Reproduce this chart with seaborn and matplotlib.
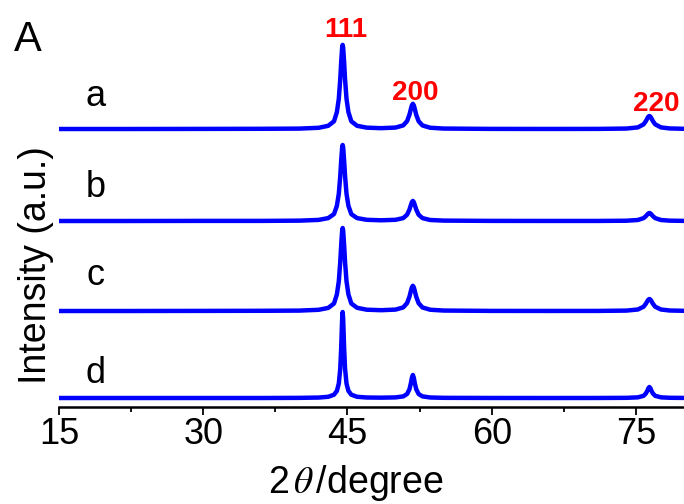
import numpy as np
import pandas as pd
import matplotlib
matplotlib.use("Agg")
import matplotlib.pyplot as plt
import seaborn as sns
from matplotlib.ticker import MultipleLocator

# ---------------- data ----------------
two_theta = [15, 22, 30, 36, 40, 42, 43, 43.6, 43.9, 44.1, 44.25, 44.35, 44.45, 44.5,
             44.55, 44.65, 44.75, 44.9, 45.1, 45.4, 46.0, 47.0, 48.5, 50.0, 50.8, 51.2,
             51.45, 51.6, 51.7, 51.8, 51.9, 52.0, 52.15, 52.4, 52.8, 53.6, 55, 60, 66,
             71, 74, 75.2, 75.8, 76.05, 76.2, 76.3, 76.4, 76.5, 76.6, 76.75, 77.0, 77.6,
             78.5, 80]

int_a = [0.0, 0.0, 0.1, 0.2, 0.4, 1.2, 3.2, 7.7, 16.9, 30.3, 49.7, 67.3, 81.8, 84.1,
         81.8, 67.3, 49.7, 30.3, 16.9, 7.7, 3.2, 1.35, 0.83, 1.43, 3.6, 7.9,
         14.4, 20.2, 23.7, 25.2, 23.7, 20.2, 14.3, 7.8, 3.55, 1.27, 0.45, 0.1, 0.05,
         0.1, 0.45, 1.6, 4.7, 8.1, 10.9, 12.4, 13.0, 12.4, 10.9, 8.1, 4.7, 1.6,
         0.57, 0.2]

int_b = [0.0, 0.0, 0.1, 0.1, 0.35, 1.1, 2.9, 6.9, 15.2, 27.3, 44.9, 60.8, 73.9, 76.0,
         73.9, 60.8, 44.9, 27.3, 15.2, 6.9, 2.9, 1.2, 0.7, 1.2, 2.9, 6.3,
         11.5, 16.1, 18.9, 20.1, 18.9, 16.1, 11.5, 6.3, 2.9, 1.0, 0.4, 0.1, 0.05,
         0.06, 0.27, 1.0, 2.9, 5.0, 6.7, 7.6, 8.0, 7.6, 6.7, 5.0, 2.9, 1.0,
         0.35, 0.12]

int_c = [0.0, 0.0, 0.1, 0.2, 0.4, 1.2, 3.1, 7.5, 16.6, 29.8, 49.0, 66.4, 80.7, 83.0,
         80.7, 66.4, 49.0, 29.8, 16.6, 7.5, 3.2, 1.3, 0.8, 1.4, 3.6, 7.9,
         14.4, 20.2, 23.7, 25.2, 23.7, 20.2, 14.3, 7.8, 3.55, 1.27, 0.45, 0.1, 0.05,
         0.08, 0.4, 1.5, 4.3, 7.5, 10.1, 11.4, 12.0, 11.4, 10.1, 7.5, 4.3, 1.5,
         0.5, 0.18]

int_d = [0.0, 0.0, 0.0, 0.0, 0.14, 0.44, 1.2, 3.3, 7.1, 14.5, 29.3, 50.7, 79.8, 86.0,
         79.8, 50.7, 29.3, 14.5, 7.1, 3.3, 1.2, 0.5, 0.33, 0.6, 1.6, 4.0,
         8.8, 15.0, 20.3, 23.0, 20.3, 15.0, 8.8, 4.0, 1.6, 0.52, 0.17, 0.03, 0.0,
         0.03, 0.17, 0.65, 2.2, 4.7, 7.6, 9.9, 11.0, 9.9, 7.6, 4.7, 2.2, 0.65,
         0.22, 0.08]

sample_names = ["a", "b", "c", "d"]
sample_offsets = [278, 186, 96, 9]
sample_label_y = [301, 210, 122, 24]

peak_labels = ["111", "200", "220"]
peak_label_x = [44.85, 52.02, 77.09]
peak_label_y = [370, 307, 296]

x_ticks = [15, 30, 45, 60, 75]

# ---------------- figure ----------------
sns.set_theme(style="white")
plt.rcParams["font.family"] = ["Liberation Sans", "DejaVu Sans"]
plt.rcParams["mathtext.fontset"] = "stix"
plt.rcParams["text.color"] = "black"
plt.rcParams["axes.labelcolor"] = "black"
plt.rcParams["xtick.color"] = "black"
plt.rcParams["ytick.color"] = "black"

W, H = 684, 504
fig = plt.figure(figsize=(W / 100, H / 100), dpi=100)
ax_left, ax_right, ax_bottom, ax_top = 59, 684, 407, 20
ax = fig.add_axes([ax_left / W, (H - ax_bottom) / H,
                   (ax_right - ax_left) / W, (ax_bottom - ax_top) / H])

curves = [int_a, int_b, int_c, int_d]
for name, vals, off in zip(sample_names, curves, sample_offsets):
    df = pd.DataFrame({"two_theta": two_theta,
                       "intensity": np.asarray(vals) + off})
    sns.lineplot(data=df, x="two_theta", y="intensity", ax=ax, color="#0000FF",
                 linewidth=3.2, estimator=None, sort=False, legend=False)

for name, ly in zip(sample_names, sample_label_y):
    ax.text(18.8, ly, name, fontsize=26, ha="center", va="baseline", color="black")

for lab, lx, ly in zip(peak_labels, peak_label_x, peak_label_y):
    ax.text(lx, ly, lab, fontsize=20, fontweight="bold", ha="center",
            va="baseline", color="#FF0000")

ax.set_xlim(15, 80)
ax.set_ylim(0, ax_bottom - ax_top)
ax.set_xlabel("")
ax.set_ylabel("")
ax.set_yticks([])
ax.set_xticks(x_ticks)
ax.set_xticklabels([str(t) for t in x_ticks])
ax.xaxis.set_minor_locator(MultipleLocator(7.5))
for s in ["left", "top", "right"]:
    ax.spines[s].set_visible(False)
ax.spines["bottom"].set_linewidth(1.8)
ax.spines["bottom"].set_color("black")
ax.tick_params(axis="x", which="major", direction="out", length=5.5, width=1.3,
               labelsize=26, pad=2, bottom=True, colors="black")
ax.tick_params(axis="x", which="minor", direction="out", length=3.5, width=1.3,
               bottom=True, colors="black")

fig.text(14 / W, (H - 51) / H, "A", fontsize=30, ha="left", va="baseline",
         color="black")
fig.text(36 / W, (H - 265) / H, "Intensity (a.u.)", fontsize=27, rotation=90,
         ha="center", va="center", color="black")
fig.text(356 / W, (H - 493) / H, r"2$\,\theta\,$/degree", fontsize=27,
         ha="center", va="baseline", color="black")

fig.savefig("out.png", dpi=100)
